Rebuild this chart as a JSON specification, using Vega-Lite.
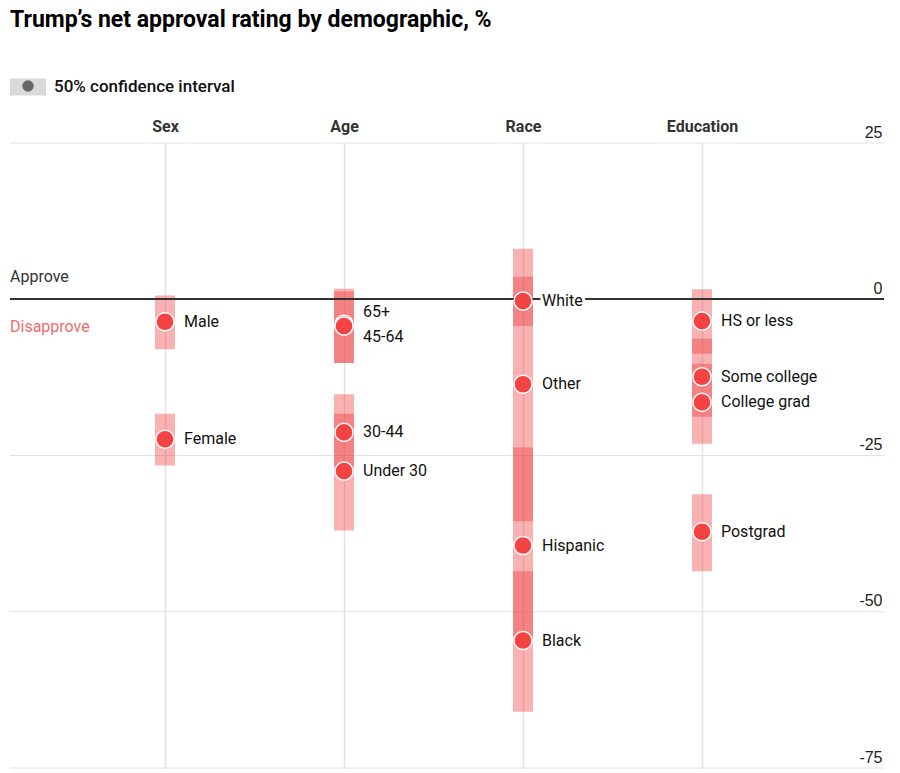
{
  "$schema": "https://vega.github.io/schema/vega-lite/v6.json",
  "width": 874,
  "height": 625,
  "autosize": {"type": "none"},
  "padding": {"left": 10, "top": 143, "right": 16, "bottom": 5},
  "background": "white",
  "title": {
    "text": "Trump’s net approval rating by demographic, %",
    "anchor": "start",
    "frame": "group",
    "font": "Roboto",
    "fontSize": 23,
    "fontWeight": "bold",
    "color": "#000000",
    "offset": 37
  },
  "config": {
    "view": {"stroke": null},
    "font": "Roboto"
  },
  "datasets": {
    "groups": [
      {"group": "Sex", "label": "Male", "value": -3.6, "hi": 0.6, "lo": -8.0},
      {"group": "Sex", "label": "Female", "value": -22.4, "hi": -18.3, "lo": -26.6},
      {"group": "Age", "label": "65+", "value": -4.0, "hi": 1.7, "lo": -10.2},
      {"group": "Age", "label": "45-64", "value": -4.3, "hi": 1.3, "lo": -10.2},
      {"group": "Age", "label": "30-44", "value": -21.3, "hi": -15.2, "lo": -26.8},
      {"group": "Age", "label": "Under 30", "value": -27.5, "hi": -18.3, "lo": -37.0},
      {"group": "Race", "label": "White", "value": -0.3, "hi": 3.6, "lo": -4.3},
      {"group": "Race", "label": "Other", "value": -13.6, "hi": 8.1, "lo": -35.5},
      {"group": "Race", "label": "Hispanic", "value": -39.4, "hi": -23.7, "lo": -54.3},
      {"group": "Race", "label": "Black", "value": -54.6, "hi": -43.5, "lo": -66.0},
      {"group": "Education", "label": "HS or less", "value": -3.5, "hi": 1.6, "lo": -8.7},
      {"group": "Education", "label": "Some college", "value": -12.4, "hi": -6.3, "lo": -18.8},
      {"group": "Education", "label": "College grad", "value": -16.5, "hi": -10.3, "lo": -23.1},
      {"group": "Education", "label": "Postgrad", "value": -37.2, "hi": -31.2, "lo": -43.5}
    ],
    "gridlines": [
      {"tick": 25},
      {"tick": -25},
      {"tick": -50},
      {"tick": -75}
    ]
  },
  "layer": [
    {
      "data": {"name": "gridlines"},
      "mark": {"type": "rule", "color": "#e2e2e2", "strokeWidth": 1},
      "encoding": {
        "y": {
          "field": "tick",
          "type": "quantitative",
          "scale": {"domain": [-75, 25], "nice": false, "zero": false},
          "axis": {
            "orient": "right",
            "title": null,
            "values": [25, 0, -25, -50, -75],
            "labelExpr": "'' + datum.value",
            "domain": false,
            "ticks": false,
            "grid": false,
            "labelFont": "Liberation Sans",
            "labelFontSize": 16,
            "labelColor": "#222222",
            "labelAlign": "right",
            "labelBaseline": "bottom",
            "labelPadding": -2,
            "labelOffset": -3
          }
        }
      }
    },
    {
      "data": {"values": []},
      "mark": {"type": "point", "filled": true, "color": "#d9d9d9", "opacity": 1, "strokeWidth": 0, "shape": "M-1,-0.47H1V0.47H-1Z"},
      "encoding": {
        "size": {
          "datum": "50% confidence interval",
          "scale": {"range": [1296, 1296]},
          "legend": {
            "title": null,
            "orient": "none",
            "legendX": 0,
            "legendY": -74,
            "symbolType": "M-1,-0.47H1V0.47H-1Z",
            "symbolFillColor": "#d9d9d9",
            "symbolStrokeColor": "transparent",
            "symbolStrokeWidth": 0,
            "symbolOpacity": 1,
            "labelFont": "Roboto",
            "labelFontSize": 17,
            "labelFontWeight": 500,
            "labelColor": "#111111",
            "labelOffset": 8,
            "labelLimit": 400
          }
        }
      }
    },
    {
      "data": {"values": []},
      "mark": {"type": "point", "filled": true, "color": "#666666", "opacity": 1, "strokeWidth": 0, "size": 130},
      "encoding": {
        "shape": {
          "datum": "ci",
          "scale": {"range": ["circle"]},
          "legend": {
            "title": null,
            "orient": "none",
            "legendX": 12,
            "legendY": -63,
            "symbolSize": 130,
            "symbolFillColor": "#666666",
            "symbolStrokeColor": "transparent",
            "symbolStrokeWidth": 0,
            "symbolOpacity": 1,
            "labelExpr": "''"
          }
        }
      }
    },
    {
      "data": {"name": "groups"},
      "layer": [
        {
          "mark": {"type": "bar", "width": 20, "opacity": 0.4, "color": "#f03c3c"},
          "encoding": {
            "x": {
              "field": "group",
              "type": "nominal",
              "sort": ["Sex", "Age", "Race", "Education"],
              "scale": {"type": "point", "domain": ["Sex", "Age", "Race", "Education"], "range": [155, 692], "padding": 0},
              "axis": {
                "orient": "top",
                "title": null,
                "domain": false,
                "ticks": false,
                "grid": true,
                "gridColor": "#e2e2e2",
                "gridWidth": 1.5,
                "labelFont": "Roboto",
                "labelFontSize": 16,
                "labelFontWeight": "bold",
                "labelColor": "#333333",
                "labelPadding": 9,
                "labelAngle": 0
              }
            },
            "y": {"field": "hi", "type": "quantitative"},
            "y2": {"field": "lo"}
          }
        },
        {
          "mark": {"type": "rule", "color": "#333333", "strokeWidth": 1.2},
          "encoding": {"y": {"datum": 0, "type": "quantitative"}}
        },
        {
          "mark": {"type": "point", "filled": true, "size": 330, "fill": "#f44343", "stroke": "white", "strokeWidth": 1.5, "opacity": 1},
          "encoding": {
            "x": {"field": "group", "type": "nominal"},
            "y": {"field": "value", "type": "quantitative"}
          }
        },
        {
          "mark": {
            "type": "text",
            "align": "left",
            "baseline": "middle",
            "dx": 19,
            "dy": {"expr": "datum.label === '65+' ? -12 : datum.label === '45-64' ? 11 : 0"},
            "font": "Roboto",
            "fontSize": 16,
            "stroke": "white",
            "strokeWidth": 6,
            "fill": "white"
          },
          "encoding": {
            "x": {"field": "group", "type": "nominal"},
            "y": {"field": "value", "type": "quantitative"},
            "text": {"field": "label"}
          }
        },
        {
          "mark": {
            "type": "text",
            "align": "left",
            "baseline": "middle",
            "dx": 19,
            "dy": {"expr": "datum.label === '65+' ? -12 : datum.label === '45-64' ? 11 : 0"},
            "font": "Roboto",
            "fontSize": 16,
            "color": "#111111"
          },
          "encoding": {
            "x": {"field": "group", "type": "nominal"},
            "y": {"field": "value", "type": "quantitative"},
            "text": {"field": "label"}
          }
        }
      ]
    },
    {
      "data": {"values": [{"note": "Approve"}]},
      "mark": {"type": "text", "align": "left", "baseline": "bottom", "dy": -14, "font": "Roboto", "fontSize": 16, "color": "#333333"},
      "encoding": {
        "x": {"datum": 0, "type": "quantitative", "scale": {"domain": [0, 1]}, "axis": null},
        "y": {"datum": 0, "type": "quantitative"},
        "text": {"field": "note"}
      }
    },
    {
      "data": {"values": [{"note": "Disapprove"}]},
      "mark": {"type": "text", "align": "left", "baseline": "top", "dy": 20, "font": "Roboto", "fontSize": 16, "color": "#f26b6b"},
      "encoding": {
        "x": {"datum": 0, "type": "quantitative", "scale": {"domain": [0, 1]}, "axis": null},
        "y": {"datum": 0, "type": "quantitative"},
        "text": {"field": "note"}
      }
    }
  ],
  "resolve": {"scale": {"x": "independent"}}
}
